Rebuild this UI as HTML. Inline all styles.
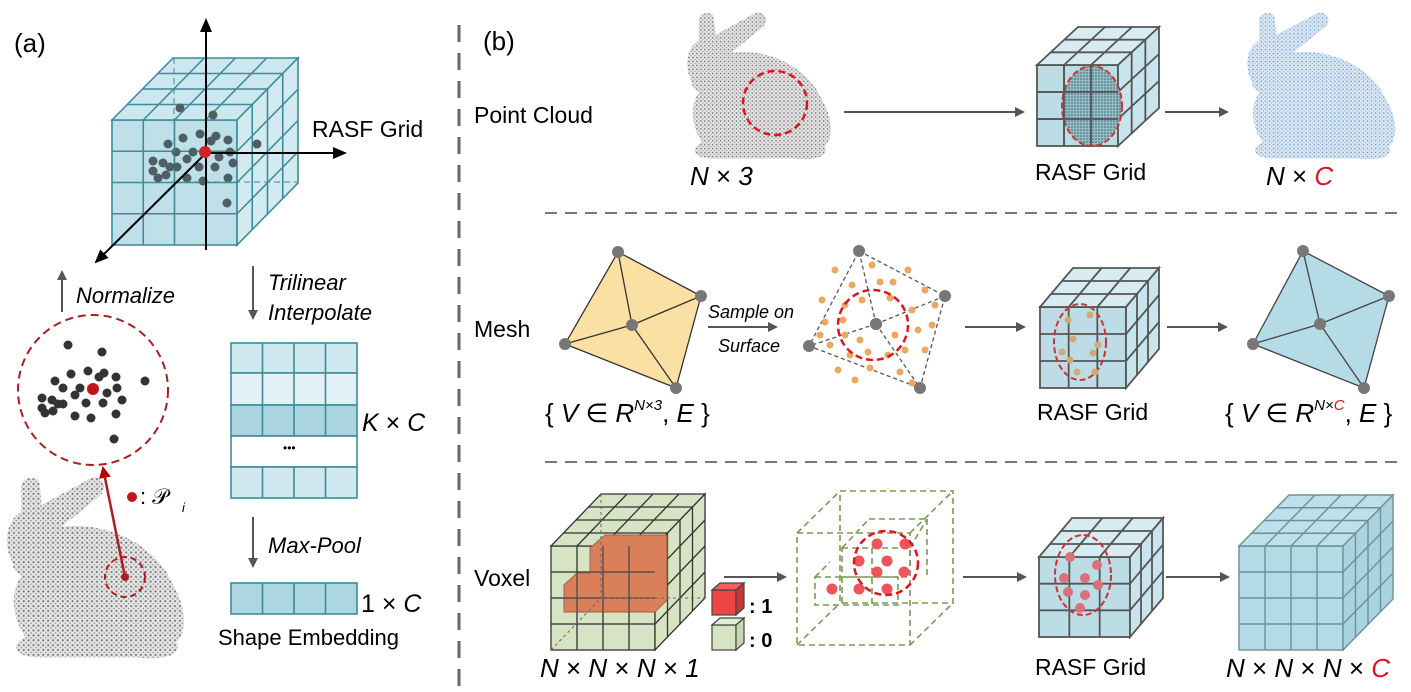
<!DOCTYPE html>
<html><head><meta charset="utf-8"><style>
html,body{margin:0;padding:0;background:#fff}
svg{display:block}
text{font-family:"Liberation Sans",sans-serif}
</style></head><body>
<svg id="s" width="1411" height="692" viewBox="0 0 1411 692" xmlns="http://www.w3.org/2000/svg">
<defs>
<pattern id="gd" width="4" height="4" patternUnits="userSpaceOnUse">
<rect width="4" height="4" fill="#e6e6e6"/><circle cx="1" cy="1" r="0.9" fill="#777"/><circle cx="3" cy="3" r="0.7" fill="#999"/></pattern>
<pattern id="bd" width="4" height="4" patternUnits="userSpaceOnUse">
<rect width="4" height="4" fill="#dce9f5"/><circle cx="1" cy="1" r="0.9" fill="#7fa3cc"/><circle cx="3" cy="3" r="0.7" fill="#9cb9da"/></pattern>
<pattern id="td" width="3" height="3" patternUnits="userSpaceOnUse">
<rect width="3" height="3" fill="#8fb9c2"/><circle cx="1" cy="1" r="0.8" fill="#2f5560"/></pattern>
<marker id="ah" markerWidth="10" markerHeight="10" refX="8" refY="5" orient="auto" markerUnits="userSpaceOnUse"><path d="M0,0 L10,5 L0,10 Z" fill="#555"/></marker>
<marker id="ak" markerWidth="14" markerHeight="14" refX="12" refY="7" orient="auto" markerUnits="userSpaceOnUse"><path d="M0,1 L14,7 L0,13 Z" fill="#000"/></marker>
<marker id="ar" markerWidth="12" markerHeight="12" refX="10" refY="6" orient="auto" markerUnits="userSpaceOnUse"><path d="M0,0 L12,6 L0,12 Z" fill="#b00"/></marker>
</defs>
<g id="g"></g>
</svg>
<script>
var g=document.getElementById('g'),o='';
function cube(x,y,w,h,dx,dy,n,ff,ft,fs,st,sw,ns){
 ns=ns||n;var s='';
 s+='<rect x="'+x+'" y="'+y+'" width="'+w+'" height="'+h+'" fill="'+ff+'" stroke="'+st+'" stroke-width="'+sw+'"/>';
 s+='<polygon points="'+x+','+y+' '+(x+dx)+','+(y+dy)+' '+(x+w+dx)+','+(y+dy)+' '+(x+w)+','+y+'" fill="'+ft+'" stroke="'+st+'" stroke-width="'+sw+'"/>';
 s+='<polygon points="'+(x+w)+','+y+' '+(x+w+dx)+','+(y+dy)+' '+(x+w+dx)+','+(y+h+dy)+' '+(x+w)+','+(y+h)+'" fill="'+fs+'" stroke="'+st+'" stroke-width="'+sw+'"/>';
 var L=function(a,b,c,d){s+='<line x1="'+a+'" y1="'+b+'" x2="'+c+'" y2="'+d+'" stroke="'+st+'" stroke-width="'+sw+'"/>';};
 for(var i=1;i<n;i++){var xi=x+i*w/n,yi=y+i*h/n;L(xi,y,xi,y+h);L(x,yi,x+w,yi);L(xi,y,xi+dx,y+dy);L(x+w,yi,x+w+dx,yi+dy);}
 for(var j=1;j<ns;j++){var fx=dx*j/ns,fy=dy*j/ns;L(x+fx,y+fy,x+w+fx,y+fy);L(x+w+fx,y+fy,x+w+fx,y+h+fy);}
 return s;
}
function T(x,y,t,sz,ex){return '<text x="'+x+'" y="'+y+'" font-size="'+sz+'" '+(ex||'')+'>'+t+'</text>';}
function ln(a,b,c,d,ex){return '<line x1="'+a+'" y1="'+b+'" x2="'+c+'" y2="'+d+'" '+ex+'/>';}
function dot(x,y,r,f){return '<circle cx="'+x+'" cy="'+y+'" r="'+r+'" fill="'+f+'"/>';}
var bun='M 8 70 C 0 55, 2 35, 15 28 L 15 5 C 18 -2, 30 -2, 30 5 L 32 22 L 72 0 C 82 -3, 86 8, 80 14 L 48 40 C 85 35, 125 55, 138 85 C 150 105, 152 125, 142 135 C 148 145, 130 150, 110 147 L 30 147 C 10 147, 5 138, 18 130 C 8 115, 5 95, 15 80 C 10 77, 8 74, 8 70 Z';
function bunny(x,y,sx,sy,f){return '<path d="'+bun+'" transform="translate('+x+','+y+') scale('+sx+','+sy+')" fill="'+f+'"/>';}
var AR='stroke="#555" stroke-width="2" marker-end="url(#ah)"';
// (a)
o+=T(14,52,'(a)',26);
o+=cube(112,120,125,125,61,-62,4,'#bfe0e9','#cde7ef','#d3eaf1','#3f8c99',1.6);
var pts=[[180,108],[213,115],[183,138],[200,134],[168,144],[216,136],[211,141],[228,140],[176,152],[193,152],[230,152],[153,161],[163,163],[170,167],[177,167],[187,159],[199,167],[215,167],[219,157],[233,163],[153,171],[158,178],[166,175],[187,178],[203,181],[228,178],[257,144],[227,203]];
pts.forEach(function(p){o+=dot(p[0],p[1],4.5,'#4d5f63');});
o+=ln(174,58,174,182,'stroke="#3f8c99" stroke-dasharray="6,4"')+ln(174,182,298,182,'stroke="#3f8c99" stroke-dasharray="6,4"');
o+=ln(206,250,206,20,'stroke="#000" stroke-width="2" marker-end="url(#ak)"');
o+=ln(206,153,345,153,'stroke="#000" stroke-width="2" marker-end="url(#ak)"');
o+=ln(206,153,96,262,'stroke="#000" stroke-width="2" marker-end="url(#ak)"');
o+=dot(205,152,6,'#d0202a');
o+=T(312,137,'RASF Grid',23);
o+=ln(62,312,62,272,AR)+T(76,303,'Normalize',22,'font-style="italic"');
o+='<circle cx="93" cy="390" r="75" fill="none" stroke="#b01c22" stroke-width="2" stroke-dasharray="8,5"/>';
[[68,345],[102,352],[145,381],[71,374],[88,371],[99,377],[104,373],[116,377],[55,381],[63,388],[80,388],[107,393],[117,388],[42,398],[52,400],[58,404],[63,404],[75,395],[86,403],[103,403],[122,400],[42,408],[45,413],[53,411],[75,416],[91,418],[116,414],[114,439]].forEach(function(p){o+=dot(p[0],p[1],4.5,'#333');});
o+=dot(93,389,6,'#c0141e');
o+=bunny(3,478,1.22,1.22,'url(#gd)');
o+='<circle cx="125" cy="577" r="20" fill="none" stroke="#b01c22" stroke-width="2" stroke-dasharray="6,4"/>';
o+=ln(125,577,103,468,'stroke="#b01c22" stroke-width="2.5" marker-end="url(#ar)"')+dot(125,577,4,'#b01c22');
o+=dot(132,497,5,'#c0141e')+T(140,504,': 𝒫',22)+T(182,512,'i',13,'font-style="italic"');
o+=ln(253,266,253,318,AR)+T(268,290,'Trilinear',22,'font-style="italic"')+T(268,320,'Interpolate',22,'font-style="italic"');
var ry=[343,373,405,436,467,498],rf=['#d0e8f0','#e2f1f6','#a9d4e0','#fff','#d0e8f0'];
for(var i=0;i<5;i++){o+='<rect x="231" y="'+ry[i]+'" width="126" height="'+(ry[i+1]-ry[i])+'" fill="'+rf[i]+'" stroke="#3f8c99" stroke-width="1.6"/>';if(i!=3)for(var k=1;k<4;k++)o+=ln(231+k*31.5,ry[i],231+k*31.5,ry[i+1],'stroke="#3f8c99" stroke-width="1.6"');}
o+=T(283,452,'•••',12)+T(362,431,'<tspan font-style="italic">K</tspan> × <tspan font-style="italic">C</tspan>',25);
o+=ln(253,517,253,566,AR)+T(268,553,'Max-Pool',22,'font-style="italic"');
o+='<rect x="231" y="583" width="126" height="31" fill="#acd6e2" stroke="#3f8c99" stroke-width="1.6"/>';
for(var k=1;k<4;k++)o+=ln(231+k*31.5,583,231+k*31.5,614,'stroke="#3f8c99" stroke-width="1.6"');
o+=T(361,612,'1 × <tspan font-style="italic">C</tspan>',25)+T(218,645,'Shape Embedding',22);
// divider
o+=ln(459,25,459,692,'stroke="#666" stroke-width="3" stroke-dasharray="17,11"');
o+=T(483,50,'(b)',26);
o+=ln(545,213,1405,213,'stroke="#777" stroke-width="2" stroke-dasharray="12,8"')+ln(545,462,1405,462,'stroke="#777" stroke-width="2" stroke-dasharray="12,8"');
o+=T(474,123,'Point Cloud',23)+T(474,337,'Mesh',23)+T(474,586,'Voxel',23);
// row1
o+=bunny(684,13,0.99,0.99,'url(#gd)');
o+='<circle cx="775" cy="103" r="32" fill="none" stroke="#e0141e" stroke-width="2.5" stroke-dasharray="7,4"/>';
o+=T(690,185,'<tspan font-style="italic">N</tspan> × <tspan font-style="italic">3</tspan>',26);
o+=ln(844,112,1023,112,AR);
o+=cube(1037,65,81,81,41,-38,3,'#bcdde6','#d7ecf2','#c8e4ec','#555',1.8);
o+='<ellipse cx="1092" cy="106" rx="30" ry="40" fill="url(#td)" opacity="0.9"/><ellipse cx="1092" cy="106" rx="30" ry="40" fill="none" stroke="#c33" stroke-width="2" stroke-dasharray="6,3"/>';
o+=ln(1064,65,1064,146,'stroke="#555" stroke-width="1.8"')+ln(1091,65,1091,146,'stroke="#555" stroke-width="1.8"')+ln(1037,92,1118,92,'stroke="#555" stroke-width="1.8"')+ln(1037,119,1118,119,'stroke="#555" stroke-width="1.8"');
o+=T(1035,180,'RASF Grid',23);
o+=ln(1165,112,1227,112,AR);
o+=bunny(1244,13,1.02,0.99,'url(#bd)');
o+=T(1266,185,'<tspan font-style="italic">N</tspan> × <tspan font-style="italic" fill="#e0141e">C</tspan>',26);
// row2
function mesh(a,b,c,d,e,f,st,dash){var s='<polygon points="'+a+' '+b+' '+c+' '+d+'" fill="'+f+'" stroke="'+st+'" stroke-width="1.3" '+(dash||'')+'/>';[a,b,c,d].forEach(function(p){s+='<line x1="'+e.split(',')[0]+'" y1="'+e.split(',')[1]+'" x2="'+p.split(',')[0]+'" y2="'+p.split(',')[1]+'" stroke="'+st+'" stroke-width="1.3" '+(dash||'')+'/>';});[a,b,c,d,e].forEach(function(p){s+=dot(p.split(',')[0],p.split(',')[1],6,'#777');});return s;}
o+=mesh('618,252','701,296','676,388','565,344','632,325','#fbe0a3','#333');
o+=T(545,422,'{ <tspan font-style="italic">V</tspan> ∈ <tspan font-style="italic">R</tspan><tspan font-size="15" dy="-12" font-style="italic">N×3</tspan><tspan dy="12">, <tspan font-style="italic">E</tspan> }</tspan>',26);
o+=T(708,318,'Sample on',18,'font-style="italic"')+T(718,352,'Surface',18,'font-style="italic"')+ln(708,327,776,327,AR);
o+=mesh('859,251','945,296','920,388','809,346','876,324','none','#555','stroke-dasharray="4,3"');
[[835,270],[852,285],[872,265],[893,282],[908,270],[925,290],[822,300],[845,305],[862,300],[890,298],[912,310],[935,305],[825,322],[843,320],[860,340],[895,335],[918,330],[932,325],[830,345],[850,355],[868,352],[888,355],[905,350],[925,350],[838,370],[870,368],[900,372],[912,383],[855,380],[820,335],[880,282],[845,335]].forEach(function(p){o+=dot(p[0],p[1],3.5,'#eaa862');});
o+=dot(876,324,6,'#777');
o+='<circle cx="873" cy="325" r="35" fill="none" stroke="#e0141e" stroke-width="2.5" stroke-dasharray="7,4"/>';
o+=ln(965,327,1024,327,AR);
o+=cube(1040,307,86,81,33,-39,3,'#bcdde6','#d7ecf2','#c8e4ec','#555',1.8);
o+='<ellipse cx="1080" cy="342" rx="26" ry="38" fill="none" stroke="#c33" stroke-width="2" stroke-dasharray="6,3"/>';
[[1068,320],[1090,315],[1073,339],[1098,345],[1070,360],[1093,353],[1077,372],[1095,372],[1062,352]].forEach(function(p){o+=dot(p[0],p[1],3.5,'#d4a872');});
o+=T(1037,420,'RASF Grid',23);
o+=ln(1167,327,1226,327,AR);
o+=mesh('1303,251','1389,296','1364,388','1253,344','1320,324','#b5dbe6','#444');
o+=T(1225,422,'{ <tspan font-style="italic">V</tspan> ∈ <tspan font-style="italic">R</tspan><tspan font-size="15" dy="-12" font-style="italic">N×<tspan fill="#e0141e">C</tspan></tspan><tspan dy="12">, <tspan font-style="italic">E</tspan> }</tspan>',26);
// row3
o+=cube(551,546,104,104,50,-52,4,'#d6e4c4','#d6e4c4','#d6e4c4','#333',1.3);
o+='<path d="M564,612 L655,612 L667,600 L667,535 L605,535 L590,548 L590,573 L577,573 L564,585 Z" fill="#d9805a" stroke="#a06040" stroke-width="1"/>';
for(var k=1;k<4;k++){var xx=551+k*26;o+=ln(xx,546,xx,650,'stroke="#444" stroke-width="1.2"');}
for(var k=1;k<4;k++){var yy=546+k*26;o+=ln(551,yy,655,yy,'stroke="#444" stroke-width="1.2"');}
o+=ln(551,650,601,598,'stroke="#666" stroke-dasharray="3,3"')+ln(601,598,705,598,'stroke="#666" stroke-dasharray="3,3"')+ln(601,494,601,598,'stroke="#666" stroke-dasharray="3,3"');
o+=cube(712,590,24,25,8,-7,1,'#ee4444','#f06060','#cc3333','#444',1.2)+T(749,613,': 1',20,'font-weight="bold"');
o+=cube(712,625,24,25,8,-7,1,'#d6e4c4','#e2ecd6','#c6d6b0','#444',1.2)+T(749,647,': 0',20,'font-weight="bold"');
o+=T(540,677,'<tspan font-style="italic">N</tspan> × <tspan font-style="italic">N</tspan> × <tspan font-style="italic">N</tspan> × <tspan font-style="italic">1</tspan>',26);
o+=ln(724,577,785,577,AR);
var GD='fill="none" stroke="#7a9a50" stroke-width="1.6" stroke-dasharray="6,4"';
o+='<rect x="797" y="533" width="113" height="112" '+GD+'/><rect x="840" y="491" width="113" height="112" '+GD+'/>';
o+=ln(797,533,840,491,GD)+ln(910,533,953,491,GD)+ln(910,645,953,603,GD)+ln(797,645,840,603,GD);
o+='<rect x="815" y="577" width="83" height="28" '+GD+'/><rect x="842" y="548" width="68" height="29" '+GD+'/>';
o+=ln(842,577,842,605,GD)+ln(872,548,872,605,GD)+ln(842,548,869,519,GD)+ln(910,548,927,519,GD)+ln(869,519,927,519,GD)+ln(927,519,927,577,GD)+ln(815,577,830,562,GD);
[[877,544],[905,544],[859,561],[887,561],[877,572],[904,572],[832,589],[859,589],[887,589]].forEach(function(p){o+=dot(p[0],p[1],5.5,'#f0545a');});
o+='<circle cx="886" cy="563" r="32" fill="none" stroke="#e0141e" stroke-width="2.5" stroke-dasharray="7,4"/>';
o+=ln(963,577,1025,577,AR);
o+=cube(1039,557,91,80,33,-39,3,'#bcdde6','#d7ecf2','#c8e4ec','#555',1.8);
o+='<ellipse cx="1083" cy="575" rx="28" ry="40" fill="none" stroke="#c33" stroke-width="2" stroke-dasharray="6,3"/>';
[[1070,557],[1097,565],[1064,578],[1085,578],[1098,585],[1068,592],[1085,595],[1080,608]].forEach(function(p){o+=dot(p[0],p[1],5,'#d9707a');});
o+=T(1035,675,'RASF Grid',23);
o+=ln(1166,577,1228,577,AR);
o+=cube(1239,546,104,104,50,-51,4,'#b3dbe6','#bde0ea','#a9d3df','#6e8f99',1.4);
o+=T(1226,677,'<tspan font-style="italic">N</tspan> × <tspan font-style="italic">N</tspan> × <tspan font-style="italic">N</tspan> × <tspan font-style="italic" fill="#e0141e">C</tspan>',26);
g.innerHTML=o;
</script>
</body></html>
